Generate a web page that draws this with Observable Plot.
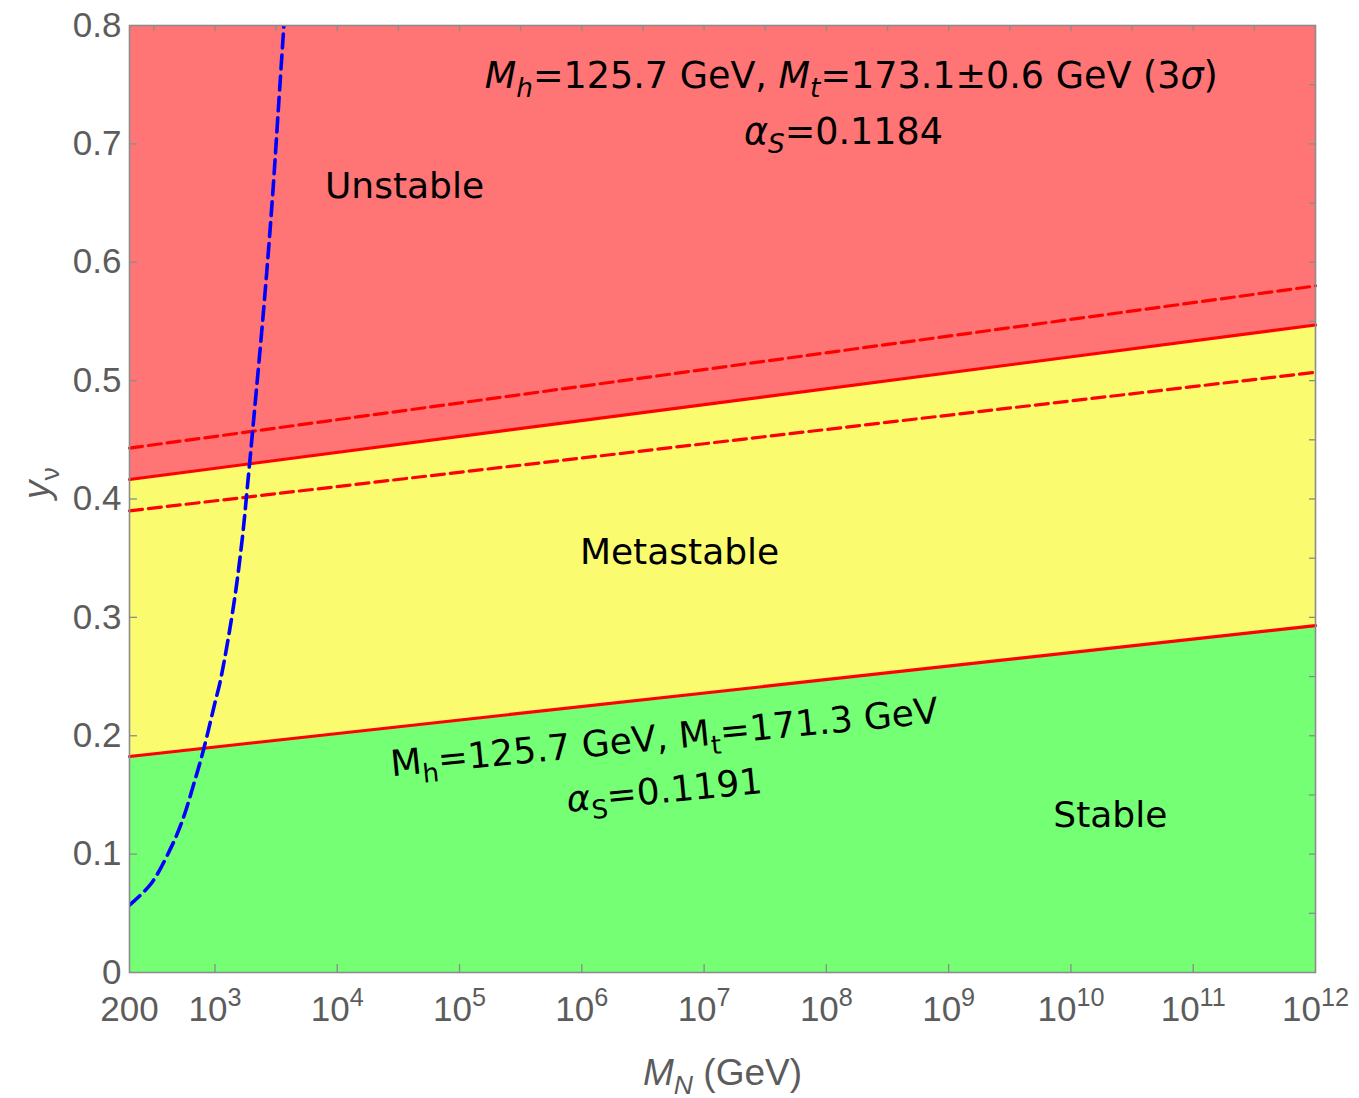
<!DOCTYPE html>
<html>
<head>
<meta charset="utf-8">
<script src="https://cdn.jsdelivr.net/npm/d3@7"></script>
<script src="https://cdn.jsdelivr.net/npm/@observablehq/plot@0.6"></script>
<style>
  body { margin: 0; background: #fff; }
  #chart svg { display: block; }
</style>
</head>
<body>
<div id="chart"></div>
<script>
// Heavy-neutrino mass M_N (GeV) at the ends of the sampled range
const massEnds = [200, 1e12];

// Vacuum-stability boundaries in y_ν (solid: central M_t, dashed: M_t ∓ 3σ)
const stableEdge         = [0.1825, 0.293];  // stable | metastable
const unstableEdge       = [0.4165, 0.547];  // metastable | unstable
const unstableEdgeLowMt  = [0.443, 0.580];   // dashed, upper
const unstableEdgeHighMt = [0.390, 0.507];   // dashed, lower

// Dashed blue curve (y_ν versus M_N)
const curveM = [200, 300, 430, 540, 670, 810, 1000, 1110, 1420, 1670, 1840, 2080, 2500, 2940, 3330, 3660];
const curveY = [0.057, 0.075, 0.104, 0.128, 0.159, 0.189, 0.228, 0.247, 0.310, 0.366, 0.410, 0.469, 0.560, 0.652, 0.736, 0.800];

// Region names
const regionNames = ["Unstable", "Metastable", "Stable"];
const regionNameM = [3.55e4, 6.3e6, 2.1e10];
const regionNameY = [0.654, 0.3455, 0.1233];

// Parameter annotations (markup: <i> italic, <sub> subscript)
const topNotes = [
  "<i>M</i><sub><i>h</i></sub>=125.7 GeV, <i>M</i><sub><i>t</i></sub>=173.1±0.6 GeV (3<i>σ</i>)",
  "<i>α</i><sub><i>S</i></sub>=0.1184"
];
const topNoteM = [1.6e8, 1.38e8];
const topNoteY = [0.7476, 0.7003];

const lowNotes = [
  "M<sub>h</sub>=125.7 GeV, M<sub>t</sub>=171.3 GeV",
  "<i>α</i><sub>S</sub>=0.1191"
];
const lowNoteM = [4.84e6, 4.84e6];
const lowNoteY = [0.1884, 0.1436];

// Axis ticks
const xTickValues = [200, 1e3, 1e4, 1e5, 1e6, 1e7, 1e8, 1e9, 1e10, 1e11, 1e12];
const xTickLabels = ["200", "10<sup>3</sup>", "10<sup>4</sup>", "10<sup>5</sup>", "10<sup>6</sup>", "10<sup>7</sup>",
  "10<sup>8</sup>", "10<sup>9</sup>", "10<sup>10</sup>", "10<sup>11</sup>", "10<sup>12</sup>"];
const xTopTicks = [10 ** 2.5, 1e3, 10 ** 3.5, 1e4, 10 ** 4.5, 1e5, 10 ** 5.5, 1e6, 10 ** 6.5, 1e7, 10 ** 7.5,
  1e8, 10 ** 8.5, 1e9, 10 ** 9.5, 1e10, 10 ** 10.5, 1e11, 10 ** 11.5];
const yTickValues = [0, 0.1, 0.2, 0.3, 0.4, 0.5, 0.6, 0.7, 0.8];
const yTickLabels = ["0", "0.1", "0.2", "0.3", "0.4", "0.5", "0.6", "0.7", "0.8"];
const yRightTicks = [0.05, 0.1, 0.15, 0.2, 0.25, 0.3, 0.35, 0.4, 0.45, 0.5, 0.55, 0.6, 0.65, 0.7, 0.75];

const xLabel = "<i>M</i><sub><i>N</i></sub> (GeV)";
const yLabel = "<i>y</i><sub>ν</sub>";

// Tables for the marks
const bounds = massEnds.map((m, i) => ({
  m,
  stable: stableEdge[i],
  unstable: unstableEdge[i],
  dashHi: unstableEdgeLowMt[i],
  dashLo: unstableEdgeHighMt[i]
}));
const curve = curveM.map((m, i) => ({m, y: curveY[i]}));
const regions = regionNames.map((t, i) => ({t, m: regionNameM[i], y: regionNameY[i]}));
const tops = topNotes.map((t, i) => ({t, m: topNoteM[i], y: topNoteY[i]}));
const lows = lowNotes.map((t, i) => ({t, m: lowNoteM[i], y: lowNoteY[i]}));
const xTicks = xTickValues.map((v, i) => ({v, t: xTickLabels[i]}));
const yTicks = yTickValues.map((v, i) => ({v, t: yTickLabels[i]}));

const W = 1359, H = 1098;
const mL = 129, mR = 44, mT = 25, mB = 126;
const plotW = W - mL - mR, plotH = H - mT - mB;
const gray = "#5c5c5c";
const frameGray = "#8c8c8c";
const tickFont = "'Liberation Sans', Arial, sans-serif";
const noteFont = "'DejaVu Sans', sans-serif";

const red = "#ff7474", yellow = "#fbfb6f", green = "#74ff74";

const svg = Plot.plot({
  width: W,
  height: H,
  marginLeft: mL,
  marginRight: mR,
  marginTop: mT,
  marginBottom: mB,
  style: {fontFamily: tickFont, background: "#fff", overflow: "visible"},
  x: {type: "log", domain: [200, 1e12], axis: null},
  y: {domain: [0, 0.8], axis: null},
  marks: [
    // coloured regions
    Plot.areaY(bounds, {x: "m", y1: 0, y2: "stable", fill: green}),
    Plot.areaY(bounds, {x: "m", y1: "stable", y2: "unstable", fill: yellow}),
    Plot.areaY(bounds, {x: "m", y1: "unstable", y2: 0.8, fill: red}),

    // boundaries
    Plot.line(bounds, {x: "m", y: "dashHi", stroke: "#ff0000", strokeWidth: 3.2, strokeDasharray: "13,6"}),
    Plot.line(bounds, {x: "m", y: "dashLo", stroke: "#ff0000", strokeWidth: 3.2, strokeDasharray: "13,6"}),
    Plot.line(bounds, {x: "m", y: "unstable", stroke: "#ff0000", strokeWidth: 3.2}),
    Plot.line(bounds, {x: "m", y: "stable", stroke: "#ff0000", strokeWidth: 3.2}),

    // blue dashed curve
    Plot.line(curve, {x: "m", y: "y", stroke: "#0000ff", strokeWidth: 3.6, strokeDasharray: "14,7", curve: "catmull-rom", clip: true}),

    // labels inside the plot
    Plot.text(regions, {x: "m", y: "y", text: "t", fontFamily: noteFont, fontSize: 36, lineAnchor: "bottom", fill: "#000"}),
    Plot.text(tops, {x: "m", y: "y", text: "t", fontFamily: noteFont, fontSize: 36.5, lineAnchor: "bottom", fill: "#000"}),
    Plot.text(lows, {x: "m", y: "y", text: "t", fontFamily: noteFont, fontSize: 36, lineAnchor: "bottom", fill: "#000", rotate: -5.6}),

    // frame and inward ticks
    Plot.frame({stroke: frameGray, strokeWidth: 1.6}),
    Plot.tickX(xTickValues.slice(1, -1), {x: d => d, stroke: frameGray, strokeWidth: 1.3, insetTop: plotH - 8}),
    Plot.tickX(xTopTicks, {x: d => d, stroke: frameGray, strokeWidth: 1.3, insetBottom: plotH - 6}),
    Plot.tickY(yTickValues.slice(1, -1), {y: d => d, stroke: frameGray, strokeWidth: 1.3, insetRight: plotW - 8}),
    Plot.tickY(yRightTicks, {y: d => d, stroke: frameGray, strokeWidth: 1.3, insetLeft: plotW - 6}),

    // tick labels
    Plot.text(xTicks, {x: "v", text: "t", frameAnchor: "bottom", dy: 48, lineAnchor: "bottom", fontSize: 35, fill: gray}),
    Plot.text(yTicks, {y: "v", text: "t", frameAnchor: "left", dx: -8, textAnchor: "end", lineAnchor: "middle", fontSize: 35, fill: gray}),

    // axis titles
    Plot.text([xLabel], {text: d => d, frameAnchor: "bottom", dy: 112, lineAnchor: "bottom", fontSize: 37, fill: gray}),
    Plot.text([yLabel], {text: d => d, frameAnchor: "left", dx: -92, dy: 0, rotate: -90, lineAnchor: "middle", fontSize: 37, fill: gray})
  ]
});

document.getElementById("chart").appendChild(svg);

// Turn the small markup in text labels into styled tspans
function richify(el, markup) {
  const fs = parseFloat(getComputedStyle(el).fontSize) || 32;
  const sel = d3.select(el);
  sel.text(null);
  let italic = false, sub = false, sup = false, cur = 0;
  for (const m of markup.matchAll(/<(\/?)(i|sub|sup)>|([^<]+)/g)) {
    if (m[2]) {
      const on = !m[1];
      if (m[2] === "i") italic = on;
      else if (m[2] === "sub") sub = on;
      else sup = on;
      continue;
    }
    const target = sub ? 0.26 * fs : sup ? -0.42 * fs : 0;
    const t = sel.append("tspan").text(m[3]);
    if (italic) t.attr("font-style", "italic");
    if (sub || sup) t.attr("font-size", 0.72 * fs);
    if (target !== cur) { t.attr("dy", target - cur); cur = target; }
  }
}

d3.select(svg).selectAll("text").each(function () {
  const s = this.textContent;
  if (s.includes("<")) richify(this, s);
});
</script>
</body>
</html>
